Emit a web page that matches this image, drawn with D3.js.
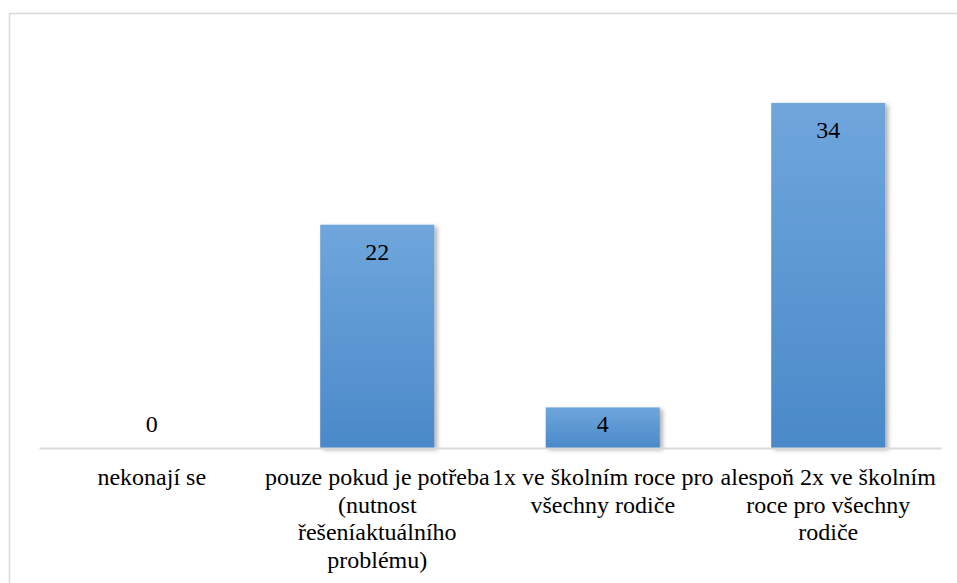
<!DOCTYPE html>
<html>
<head>
<meta charset="utf-8">
<script src="https://cdn.jsdelivr.net/npm/d3@7"></script>
<style>
  html, body { margin: 0; padding: 0; background: #fff; }
  svg { display: block; }
  svg text { font-family: "Liberation Serif", "Times New Roman", Tinos, "DejaVu Serif", serif; font-size: 24px; }
</style>
</head>
<body>
<svg id="chart" width="957" height="583"></svg>
<script>
const categories = ["nekonají se", "pouze pokud je potřeba", "1x ve školním roce pro", "alespoň 2x ve školním"];
const categoryLines = [
  ["nekonají se"],
  ["pouze pokud je potřeba", "(nutnost", "řešeníaktuálního", "problému)"],
  ["1x ve školním roce pro", "všechny rodiče"],
  ["alespoň 2x ve školním", "roce pro všechny", "rodiče"]
];
const values = [0, 22, 4, 34];
const yDomain = [0, 40];

const svg = d3.select("#chart");
const W = 957, H = 583;

const defs = svg.append("defs");
const grad = defs.append("linearGradient").attr("id", "barGrad")
  .attr("x1", 0).attr("y1", 0).attr("x2", 0).attr("y2", 1);
grad.append("stop").attr("offset", "0%").attr("stop-color", "#6fa6dc");
grad.append("stop").attr("offset", "100%").attr("stop-color", "#4a89c9");
const flt = defs.append("filter").attr("id", "shadow")
  .attr("x", "-10%").attr("y", "-10%").attr("width", "130%").attr("height", "130%");
flt.append("feDropShadow").attr("dx", 3).attr("dy", 2).attr("stdDeviation", 2)
  .attr("flood-color", "#000").attr("flood-opacity", 0.3);

// outer frame
svg.append("rect")
  .attr("x", 9.5).attr("y", 13.5).attr("width", W + 20).attr("height", H + 20)
  .attr("fill", "none").attr("stroke", "#d9d9d9").attr("stroke-width", 1.5);

const x = d3.scaleBand().domain(categories).range([39, 941]).paddingInner(0.494).paddingOuter(0.247);
const y = d3.scaleLinear().domain(yDomain).range([448, 42]);

// bars
svg.append("g").selectAll("rect").data(values).join("rect")
  .attr("x", (d, i) => x(categories[i]))
  .attr("y", d => y(d))
  .attr("width", x.bandwidth())
  .attr("height", d => y(0) - y(d))
  .attr("fill", "url(#barGrad)")
  .attr("filter", "url(#shadow)")
  .style("display", d => d > 0 ? null : "none");

// axis
const axis = d3.axisBottom(x).tickSize(0).tickSizeOuter(0).tickFormat("");
const gAxis = svg.append("g").attr("transform", `translate(0,${y(0)})`).call(axis)
  .attr("font-family", null).attr("font-size", null);
gAxis.select(".domain").attr("stroke", "#d9d9d9").attr("stroke-width", 2);

gAxis.selectAll(".tick").each(function(d, i) {
  const t = d3.select(this).append("text")
    .attr("fill", "#000")
    .attr("text-anchor", "middle");
  categoryLines[i].forEach((line, j) => {
    t.append("tspan").attr("x", 0).attr("y", 37 + j * 27.5).text(line);
  });
});

// data labels
svg.append("g").selectAll("text").data(values).join("text")
  .attr("x", (d, i) => x(categories[i]) + x.bandwidth() / 2)
  .attr("y", d => Math.min(y(d) + 35, y(0) - 16))
  .attr("text-anchor", "middle")
  .attr("fill", "#000")
  .text(d => d);
</script>
</body>
</html>
